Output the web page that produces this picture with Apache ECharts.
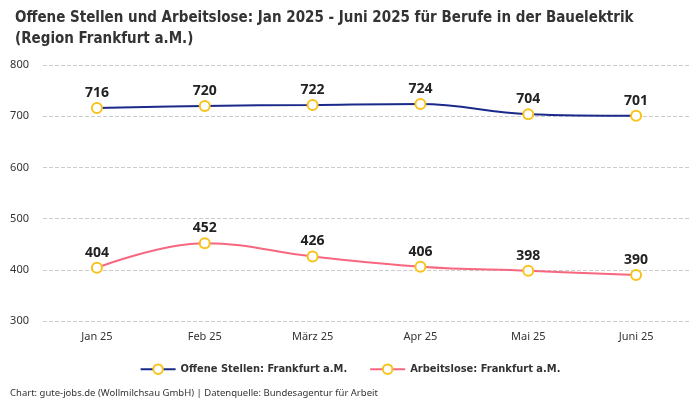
<!DOCTYPE html>
<html><head><meta charset="utf-8">
<script src="https://cdn.jsdelivr.net/npm/echarts@6/dist/echarts.min.js"></script>
<style>html,body{margin:0;padding:0;background:#fff}#c{width:700px;height:400px}</style>
</head><body><div id="c"></div>
<script>
const categories = ['Jan 25','Feb 25','März 25','Apr 25','Mai 25','Juni 25'];
const offeneStellen = [716,720,722,724,704,701];
const arbeitslose = [404,452,426,406,398,390];
const yTicks = {min:300, max:800, interval:100};
const F = '"DejaVu Sans Condensed", "Noto Sans", sans-serif';
const chart = echarts.init(document.getElementById('c'));
const marker = {color:'#fff', borderColor:'#f9c21b', borderWidth:2};
chart.setOption({
  animation:false,
  title:{text:'Offene Stellen und Arbeitslose: Jan 2025 - Juni 2025 für Berufe in der Bauelektrik\n(Region Frankfurt a.M.)',
    left:10, top:3, textStyle:{fontFamily:F, fontSize:15, fontWeight:'bold', color:'#333', lineHeight:21}},
  graphic:[{type:'text', left:10, top:388, style:{text:'Chart: gute-jobs.de (Wollmilchsau GmbH) | Datenquelle: Bundesagentur für Arbeit', fontFamily:'Noto Sans, sans-serif', fontSize:9.5, fill:'#333'}}],
  legend:{bottom:20, left:'center', itemGap:22, itemWidth:35, itemHeight:12,
    textStyle:{fontFamily:F, fontSize:11, fontWeight:'bold', color:'#333'}},
  grid:{left:43, right:10, top:65, bottom:79},
  xAxis:{type:'category', data:categories, boundaryGap:true,
    axisLine:{show:false}, axisTick:{show:false},
    axisLabel:{fontFamily:'Noto Sans, sans-serif', fontSize:11, color:'#333', margin:10}},
  yAxis:{type:'value', min:yTicks.min, max:yTicks.max, interval:yTicks.interval,
    axisLabel:{fontFamily:'Noto Sans, sans-serif', fontSize:11, color:'#333', margin:14},
    splitLine:{lineStyle:{type:'dashed', color:'#ccc'}}},
  series:[
    {name:'Offene Stellen: Frankfurt a.M.', type:'line', data:offeneStellen, smooth:0.4,
     symbol:'circle', symbolSize:10, lineStyle:{color:'#1b2a8a', width:2}, itemStyle:marker,
     label:{show:true, position:'top', distance:2, fontFamily:'Noto Sans, sans-serif', fontSize:14, fontWeight:'bold', color:'#222'}},
    {name:'Arbeitslose: Frankfurt a.M.', type:'line', data:arbeitslose, smooth:0.4,
     symbol:'circle', symbolSize:10, lineStyle:{color:'#f7677f', width:2}, itemStyle:marker,
     label:{show:true, position:'top', distance:2, fontFamily:'Noto Sans, sans-serif', fontSize:14, fontWeight:'bold', color:'#222'}}
  ]
});
</script></body></html>
